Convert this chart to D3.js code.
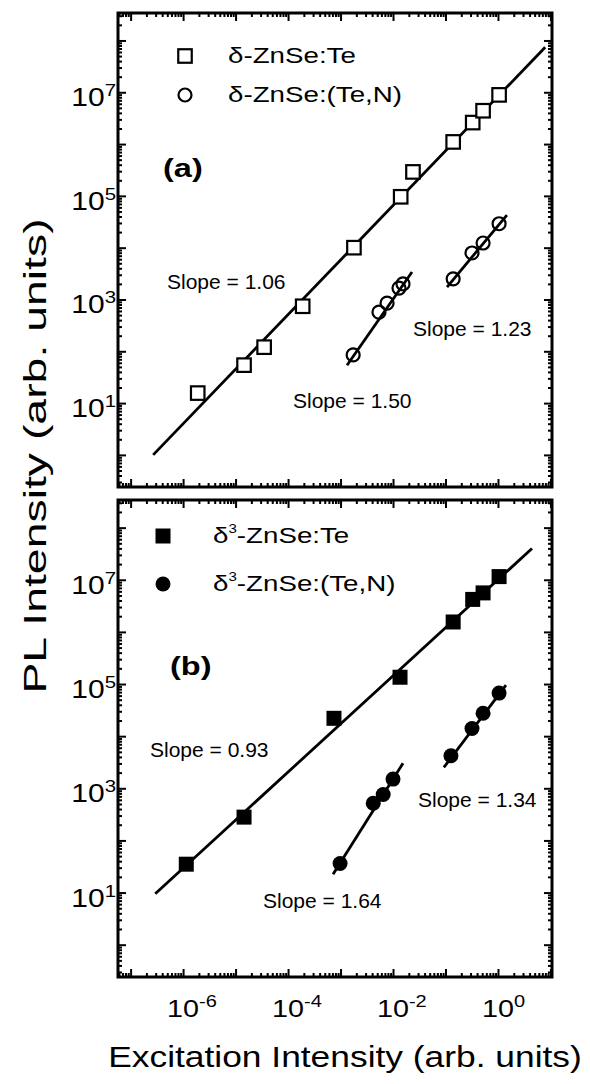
<!DOCTYPE html>
<html>
<head>
<meta charset="utf-8">
<script src="https://cdn.jsdelivr.net/npm/d3@7"></script>
<style>
body { margin: 0; background: #fff; }
text { font-family: "Liberation Sans", Arial, Helvetica, sans-serif; fill: #000; }
</style>
</head>
<body>
<div id="chart"></div>
<script>
// panel (a) : open symbols
var xA_sq = [1.9e-6, 1.45e-5, 3.5e-5, 1.9e-4, 1.8e-3, 0.014, 0.024, 0.14, 0.33, 0.52, 1.05];
var yA_sq = [15.6, 54, 120, 740, 1.0e4, 9.6e4, 2.9e5, 1.1e6, 2.6e6, 4.4e6, 8.9e6];
var xA_c1 = [1.74e-3, 5.4e-3, 7.7e-3, 0.013, 0.0155];
var yA_c1 = [85, 570, 850, 1660, 2000];
var xA_c2 = [0.14, 0.32, 0.52, 1.05];
var yA_c2 = [2500, 7900, 1.23e4, 2.9e4];
// fit lines (end points)
var lineA_sq = [[2.69e-7, 1.0], [7.94, 7.4e7]];
var lineA_c1 = [[1.33e-3, 53.7], [0.023, 3390]];
var lineA_c2 = [[0.107, 1740], [1.48, 42700]];

// panel (b) : filled symbols
var xB_sq = [1.15e-6, 1.45e-5, 7.5e-4, 0.0136, 0.14, 0.33, 0.52, 1.05];
var yB_sq = [35, 280, 2.2e4, 1.35e5, 1.55e6, 4.2e6, 5.6e6, 1.15e7];
var xB_c1 = [9.8e-4, 4.2e-3, 6.5e-3, 0.01];
var yB_c1 = [36, 515, 760, 1500];
var xB_c2 = [0.127, 0.32, 0.52, 1.05];
var yB_c2 = [4200, 1.4e4, 2.75e4, 6.7e4];
var lineB_sq = [[2.95e-7, 9.5], [4.45, 3.98e7]];
var lineB_c1 = [[7.2e-4, 22.4], [0.0155, 3020]];
var lineB_c2 = [[0.093, 2510], [1.42, 95500]];

var xTickLabels = [-6, -4, -2, 0];
var yTickLabels = [1, 3, 5, 7];
var slopeA = ["Slope = 1.06", "Slope = 1.50", "Slope = 1.23"];
var slopeB = ["Slope = 0.93", "Slope = 1.64", "Slope = 1.34"];

var width = 590, height = 1084;
var left = 118, right = 552;

var svg = d3.select("#chart").append("svg")
	.attr("width", width)
	.attr("height", height);

var x = d3.scaleLog().domain([5.75e-8, 10.7]).range([left, right]);

var xMajor = [], xMinor = [];
for (var e = -8; e <= 1; e++) {
	var v = Math.pow(10, e);
	if (v >= 5.75e-8 && v <= 10.7) xMajor.push(v);
	for (var m = 2; m <= 9; m++) {
		if (m*v >= 5.75e-8 && m*v <= 10.7) xMinor.push(m*v);
	}
}
var yMajor = [], yMinor = [];
for (var e = -1; e <= 9; e++) {
	var v = Math.pow(10, e);
	if (v >= 0.24 && v <= 3.39e8) yMajor.push(v);
	for (var m = 2; m <= 9; m++) {
		if (m*v >= 0.24 && m*v <= 3.39e8) yMinor.push(m*v);
	}
}

function stretchText(g, tx, ty, sx, txt, size, anchor, weight) {
	return g.append("text")
		.attr("transform", "translate(" + tx + "," + ty + ") scale(" + sx + ",1)")
		.attr("text-anchor", anchor || "start")
		.attr("font-size", size)
		.attr("font-weight", weight || "normal")
		.text(txt);
}

function drawPanel(p) {
	var g = svg.append("g");
	var y = d3.scaleLog().domain([0.24, 3.39e8]).range([p.bottom, p.top]);

	function ax(axis, vals, len, tr) {
		var a = g.append("g").attr("transform", tr)
			.call(axis.tickValues(vals).tickSize(-len).tickFormat(""));
		a.select(".domain").remove();
		a.selectAll("line").attr("stroke", "#000").attr("stroke-width", 2);
	}
	ax(d3.axisBottom(x), xMajor, 8, "translate(0," + p.bottom + ")");
	ax(d3.axisBottom(x), xMinor, 4, "translate(0," + p.bottom + ")");
	ax(d3.axisTop(x), xMajor, 8, "translate(0," + p.top + ")");
	ax(d3.axisTop(x), xMinor, 4, "translate(0," + p.top + ")");
	ax(d3.axisLeft(y), yMajor, 8, "translate(" + left + ",0)");
	ax(d3.axisLeft(y), yMinor, 4, "translate(" + left + ",0)");
	ax(d3.axisRight(y), yMajor, 8, "translate(" + right + ",0)");
	ax(d3.axisRight(y), yMinor, 4, "translate(" + right + ",0)");

	g.append("rect")
		.attr("x", left).attr("y", p.top)
		.attr("width", right - left).attr("height", p.bottom - p.top)
		.attr("fill", "none").attr("stroke", "#000").attr("stroke-width", 3);

	// y tick labels
	yTickLabels.forEach(function(k) {
		var t = g.append("text")
			.attr("transform", "translate(116," + (y(Math.pow(10, k)) + 14) + ") scale(1.2,1)")
			.attr("text-anchor", "end")
			.attr("font-size", 25);
		t.append("tspan").text("10");
		t.append("tspan").attr("font-size", 17).attr("dy", -10).text(k);
	});

	var line = d3.line().x(function(d){return x(d[0]);}).y(function(d){return y(d[1]);});
	p.lines.forEach(function(l) {
		g.append("path").attr("d", line(l))
			.attr("fill", "none").attr("stroke", "#000").attr("stroke-width", 2.8);
	});

	var fill = p.filled ? "#000" : "#fff";
	var sw = p.filled ? 0 : 2.2;
	var sq = p.filled ? 15 : 13.5;
	var rr = p.filled ? 7.5 : 6.5;
	g.selectAll(".sq").data(d3.zip(p.xs, p.ys)).enter().append("rect")
		.attr("x", function(d){return x(d[0]) - sq/2;})
		.attr("y", function(d){return y(d[1]) - sq/2;})
		.attr("width", sq).attr("height", sq)
		.attr("fill", fill).attr("stroke", "#000").attr("stroke-width", sw);
	[[p.xc1, p.yc1], [p.xc2, p.yc2]].forEach(function(s) {
		g.selectAll(null).data(d3.zip(s[0], s[1])).enter().append("circle")
			.attr("cx", function(d){return x(d[0]);})
			.attr("cy", function(d){return y(d[1]);})
			.attr("r", rr)
			.attr("fill", p.filled ? "#000" : "none").attr("stroke", "#000").attr("stroke-width", sw);
	});

	// legend
	var lg = p.legend;
	g.append("rect").attr("x", lg.mx - sq/2).attr("y", lg.y1 - sq/2)
		.attr("width", sq).attr("height", sq)
		.attr("fill", fill).attr("stroke", "#000").attr("stroke-width", sw);
	g.append("circle").attr("cx", lg.mx).attr("cy", lg.y2).attr("r", rr)
		.attr("fill", p.filled ? "#000" : "none").attr("stroke", "#000").attr("stroke-width", sw);
	lg.names.forEach(function(n, i) {
		var t = g.append("text")
			.attr("transform", "translate(" + lg.tx + "," + ((i ? lg.y2 : lg.y1) + 7) + ") scale(1.26,1)")
			.attr("font-size", 22);
		t.append("tspan").text("\u03B4");
		if (p.filled) {
			t.append("tspan").attr("font-size", 12).attr("dy", -10).text("3");
			t.append("tspan").attr("dy", 10).text(n);
		} else {
			t.append("tspan").text(n);
		}
	});

	stretchText(g, p.tag[1], p.tag[2], 1.3, p.tag[0], 25, "start", "bold");

	p.slopes.forEach(function(s) {
		g.append("text").attr("x", s[1]).attr("y", s[2]).attr("font-size", 21).text(s[0]);
	});
}

drawPanel({
	top: 13, bottom: 487, filled: false,
	xs: xA_sq, ys: yA_sq, xc1: xA_c1, yc1: yA_c1, xc2: xA_c2, yc2: yA_c2,
	lines: [lineA_sq, lineA_c1, lineA_c2],
	legend: {mx: 185, tx: 228, y1: 56, y2: 95, names: ["-ZnSe:Te", "-ZnSe:(Te,N)"]},
	tag: ["(a)", 163, 177],
	slopes: [[slopeA[0], 167, 289], [slopeA[1], 293, 408], [slopeA[2], 413, 336]]
});
drawPanel({
	top: 500, bottom: 977, filled: true,
	xs: xB_sq, ys: yB_sq, xc1: xB_c1, yc1: yB_c1, xc2: xB_c2, yc2: yB_c2,
	lines: [lineB_sq, lineB_c1, lineB_c2],
	legend: {mx: 163, tx: 213, y1: 536, y2: 584, names: ["-ZnSe:Te", "-ZnSe:(Te,N)"]},
	tag: ["(b)", 170, 675],
	slopes: [[slopeB[0], 150, 757], [slopeB[1], 263, 908], [slopeB[2], 418, 807]]
});

// x tick labels (below panel b)
xTickLabels.forEach(function(k) {
	var t = svg.append("text")
		.attr("transform", "translate(" + x(Math.pow(10, k)) + ",1017) scale(1.25,1)")
		.attr("font-size", 23);
	t.append("tspan").attr("x", -12.8).text("10");
	t.append("tspan").attr("font-size", 16).attr("dy", -10.5).text(k);
});

stretchText(svg, 345, 1067, 1.22, "Excitation Intensity (arb. units)", 29, "middle");

svg.append("text")
	.attr("transform", "translate(46,456) rotate(-90) scale(1.45,1)")
	.attr("text-anchor", "middle")
	.attr("font-size", 32)
	.text("PL Intensity (arb. units)");
</script>
</body>
</html>
